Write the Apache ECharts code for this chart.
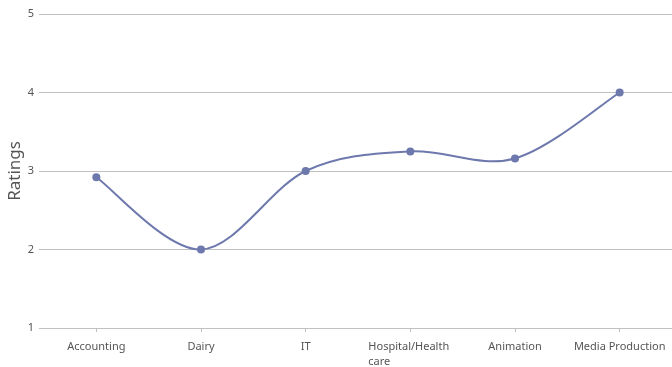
<!DOCTYPE html>
<html>
<head>
<meta charset="utf-8">
<script src="https://cdn.jsdelivr.net/npm/echarts@6/dist/echarts.min.js"></script>
<style>
  html, body { margin: 0; padding: 0; background: #fff; }
  #chart { width: 672px; height: 367px; }
</style>
</head>
<body>
<div id="chart"></div>
<script>
// Ratings by industry
const categories = ['Accounting', 'Dairy', 'IT', 'Hospital/Health care', 'Animation', 'Media Production'];
const ratings = [2.92, 2.0, 3.0, 3.25, 3.16, 4.0];
const yTicks = [1, 2, 3, 4, 5];

const lineColor = '#6d78ad';
const gridColor = '#c0c0c0';
const labelColor = '#555';
const font = 'Noto Sans';
const tension = 6; // Catmull-Rom style spline

// Long category names wrap onto two left-aligned lines
function wrapLabel(text) {
  if (text.length <= 16) return text;
  const cut = text.lastIndexOf(' ');
  return '{w|' + text.slice(0, cut) + '}\n{w|' + text.slice(cut + 1) + '}';
}

// One cubic Bezier segment from point i to point i+1, shaped by neighbours
function renderSegment(params, api) {
  const i = params.dataIndex;
  const n = ratings.length;
  if (i >= n - 1) return null;
  const idx = k => Math.min(Math.max(k, 0), n - 1);
  const pt = k => api.coord([idx(k), ratings[idx(k)]]);
  const p0 = pt(i - 1), p1 = pt(i), p2 = pt(i + 1), p3 = pt(i + 2);
  return {
    type: 'bezierCurve',
    shape: {
      x1: p1[0], y1: p1[1],
      cpx1: p1[0] + (p2[0] - p0[0]) / tension, cpy1: p1[1] + (p2[1] - p0[1]) / tension,
      cpx2: p2[0] - (p3[0] - p1[0]) / tension, cpy2: p2[1] - (p3[1] - p1[1]) / tension,
      x2: p2[0], y2: p2[1]
    },
    style: { stroke: lineColor, lineWidth: 2, fill: null }
  };
}

const chart = echarts.init(document.getElementById('chart'), null, { renderer: 'canvas' });
chart.setOption({
  animation: false,
  backgroundColor: '#ffffff',
  grid: { left: 44, right: 0, top: 14, bottom: 39, containLabel: false, outerBoundsMode: 'none' },
  xAxis: {
    type: 'category',
    data: categories,
    boundaryGap: true,
    axisLine: { show: true, lineStyle: { color: gridColor, width: 1 } },
    axisTick: { show: true, alignWithLabel: true, length: 4, lineStyle: { color: gridColor } },
    axisLabel: {
      color: labelColor, fontFamily: font, fontSize: 11, margin: 11,
      interval: 0, lineHeight: 15,
      formatter: wrapLabel,
      rich: { w: { width: 84, align: 'left', color: labelColor, fontFamily: font, fontSize: 11, lineHeight: 15 } }
    },
    splitLine: { show: false }
  },
  yAxis: {
    type: 'value',
    min: yTicks[0],
    max: yTicks[yTicks.length - 1],
    interval: 1,
    name: 'Ratings',
    nameLocation: 'middle',
    nameGap: 20,
    nameMoveOverlap: false,
    nameRotate: 90,
    nameTextStyle: { color: labelColor, fontFamily: font, fontSize: 17 },
    axisLine: { show: false },
    axisTick: { show: true, length: 5, lineStyle: { color: gridColor } },
    axisLabel: { color: labelColor, fontFamily: font, fontSize: 11, margin: 10 },
    splitLine: { show: true, lineStyle: { color: gridColor, width: 1 } }
  },
  series: [
    {
      type: 'custom',
      data: ratings,
      renderItem: renderSegment,
      z: 2
    },
    {
      type: 'scatter',
      data: ratings,
      symbol: 'circle',
      symbolSize: 8,
      itemStyle: { color: lineColor, opacity: 1 },
      z: 3
    }
  ]
});
</script>
</body>
</html>
